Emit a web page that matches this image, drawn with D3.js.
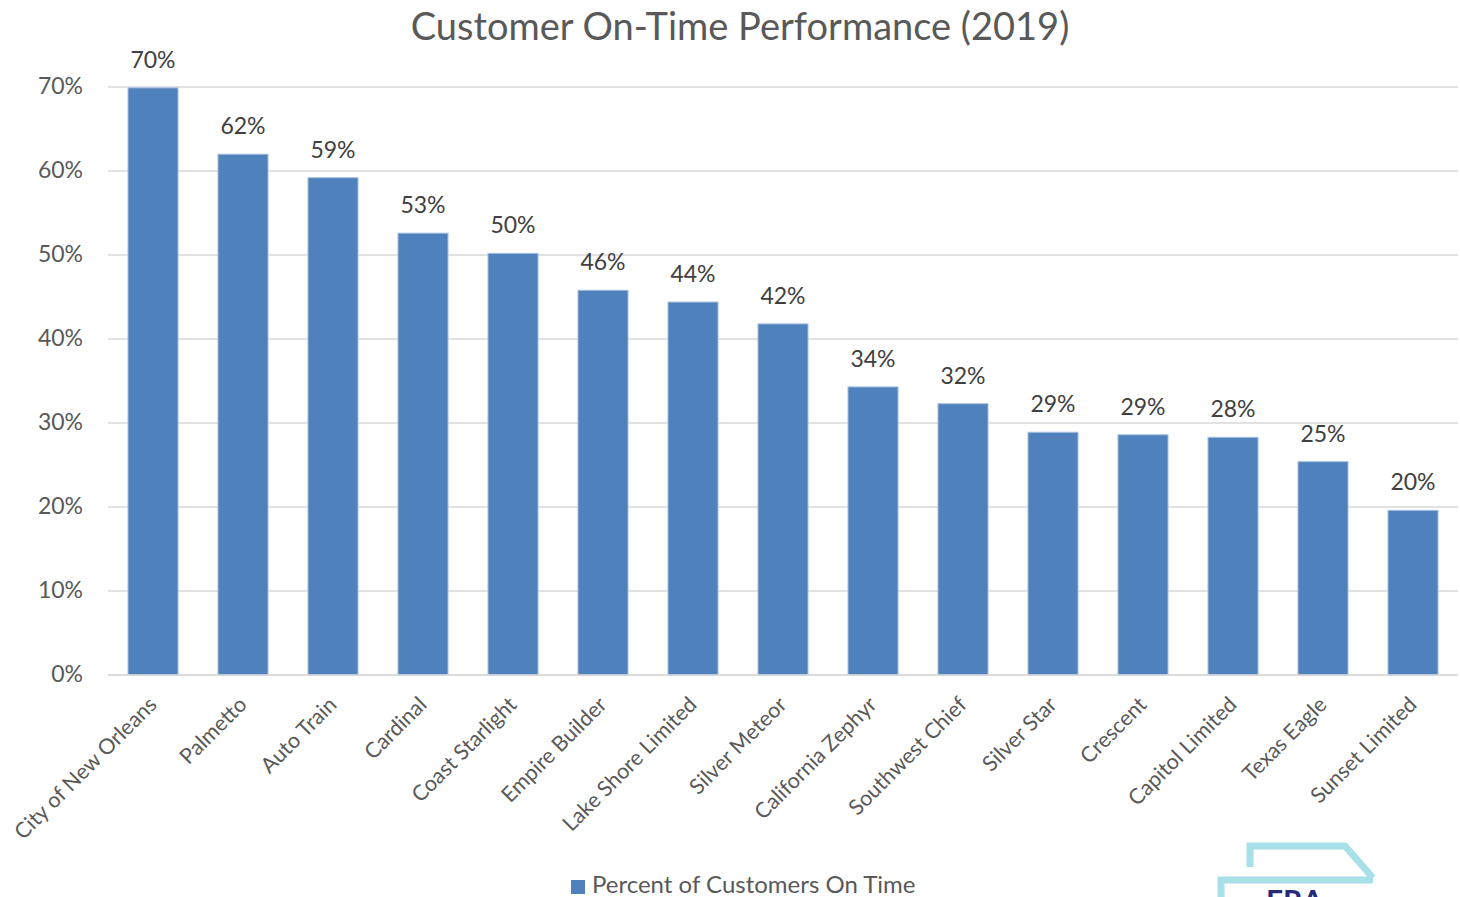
<!DOCTYPE html>
<html><head><meta charset="utf-8">
<script src="https://cdn.jsdelivr.net/npm/d3@7"></script>
<style>body{margin:0;background:#fff;overflow:hidden}text{font-family:Lato,"Open Sans",sans-serif}</style>
</head><body><svg id="c" width="1460" height="897"></svg>
<script>
const categories = ["City of New Orleans","Palmetto","Auto Train","Cardinal","Coast Starlight","Empire Builder","Lake Shore Limited","Silver Meteor","California Zephyr","Southwest Chief","Silver Star","Crescent","Capitol Limited","Texas Eagle","Sunset Limited"];
const values = [0.699,0.620,0.592,0.526,0.502,0.458,0.444,0.418,0.343,0.323,0.289,0.286,0.283,0.254,0.196];
const yTicks = [0,0.1,0.2,0.3,0.4,0.5,0.6,0.7];
const seriesName = "Percent of Customers On Time";
const title = "Customer On-Time Performance (2019)";

const svg = d3.select("#c");
const x = d3.scaleBand().domain(categories).range([108,1458]).paddingInner(0.444).paddingOuter(0.222);
const y = d3.scaleLinear().domain([0,0.7]).range([675,87]);
const fmt = d3.format(".0%");

// gridlines
svg.append("g").selectAll("line").data(yTicks).join("line")
  .attr("x1",108).attr("x2",1458).attr("y1",d=>y(d)).attr("y2",d=>y(d))
  .attr("stroke","#d9d9d9").attr("stroke-width",1.5);

// y axis labels
const yAxis = svg.append("g").attr("transform","translate(108,0)")
  .call(d3.axisLeft(y).tickValues(yTicks).tickFormat(fmt).tickSize(0).tickPadding(25));
yAxis.select(".domain").remove();
yAxis.selectAll("text").attr("font-size",23).attr("fill","#595959").attr("dy","0.3em").style("font-family","Lato,'Open Sans',sans-serif");

// bars
svg.append("g").selectAll("rect").data(values).join("rect")
  .attr("x",(d,i)=>x(categories[i])).attr("width",x.bandwidth())
  .attr("y",d=>y(d)).attr("height",d=>y(0)-y(d))
  .attr("fill","#4f81bd").attr("stroke","#a9c0e0").attr("stroke-width",1);

// data labels
svg.append("g").selectAll("text").data(values).join("text")
  .attr("x",(d,i)=>x(categories[i])+x.bandwidth()/2).attr("y",d=>y(d)-20)
  .attr("text-anchor","middle").attr("font-size",23).attr("fill","#404040")
  .text(d=>fmt(d));

// x axis line
svg.append("line").attr("x1",108).attr("x2",1458).attr("y1",675).attr("y2",675)
  .attr("stroke","#d9d9d9").attr("stroke-width",1.5);

// x labels
const xAxis = svg.append("g").attr("transform","translate(0,675)")
  .call(d3.axisBottom(x).tickSize(0).tickPadding(0));
xAxis.select(".domain").remove();
xAxis.selectAll("text")
  .attr("font-size",21.5).attr("fill","#595959")
  .style("font-family","Lato,'Open Sans',sans-serif")
  .attr("text-anchor","end").attr("dy",0).attr("y",0)
  .attr("transform","translate(5,31) rotate(-45)");

// title
svg.append("text").attr("x",740).attr("y",40).attr("text-anchor","middle")
  .attr("font-size",38).attr("fill","#595959").text(title);

// legend
svg.append("rect").attr("x",571).attr("y",880).attr("width",14).attr("height",14).attr("fill","#4f81bd");
svg.append("text").attr("x",592).attr("y",893).attr("font-size",24).attr("fill","#595959").text(seriesName);

// logo fragment
const logo = svg.append("g").attr("fill","none").attr("stroke","#a8e0ea").attr("stroke-width",7);
logo.append("path").attr("d","M1250,867 V846 H1345 L1373,878");
logo.append("path").attr("d","M1221,897 V880 H1373");
svg.append("text").attr("x",1266).attr("y",912).attr("font-size",30).attr("font-weight","bold").attr("fill","#2a2a7a").text("FRA");
</script></body></html>
